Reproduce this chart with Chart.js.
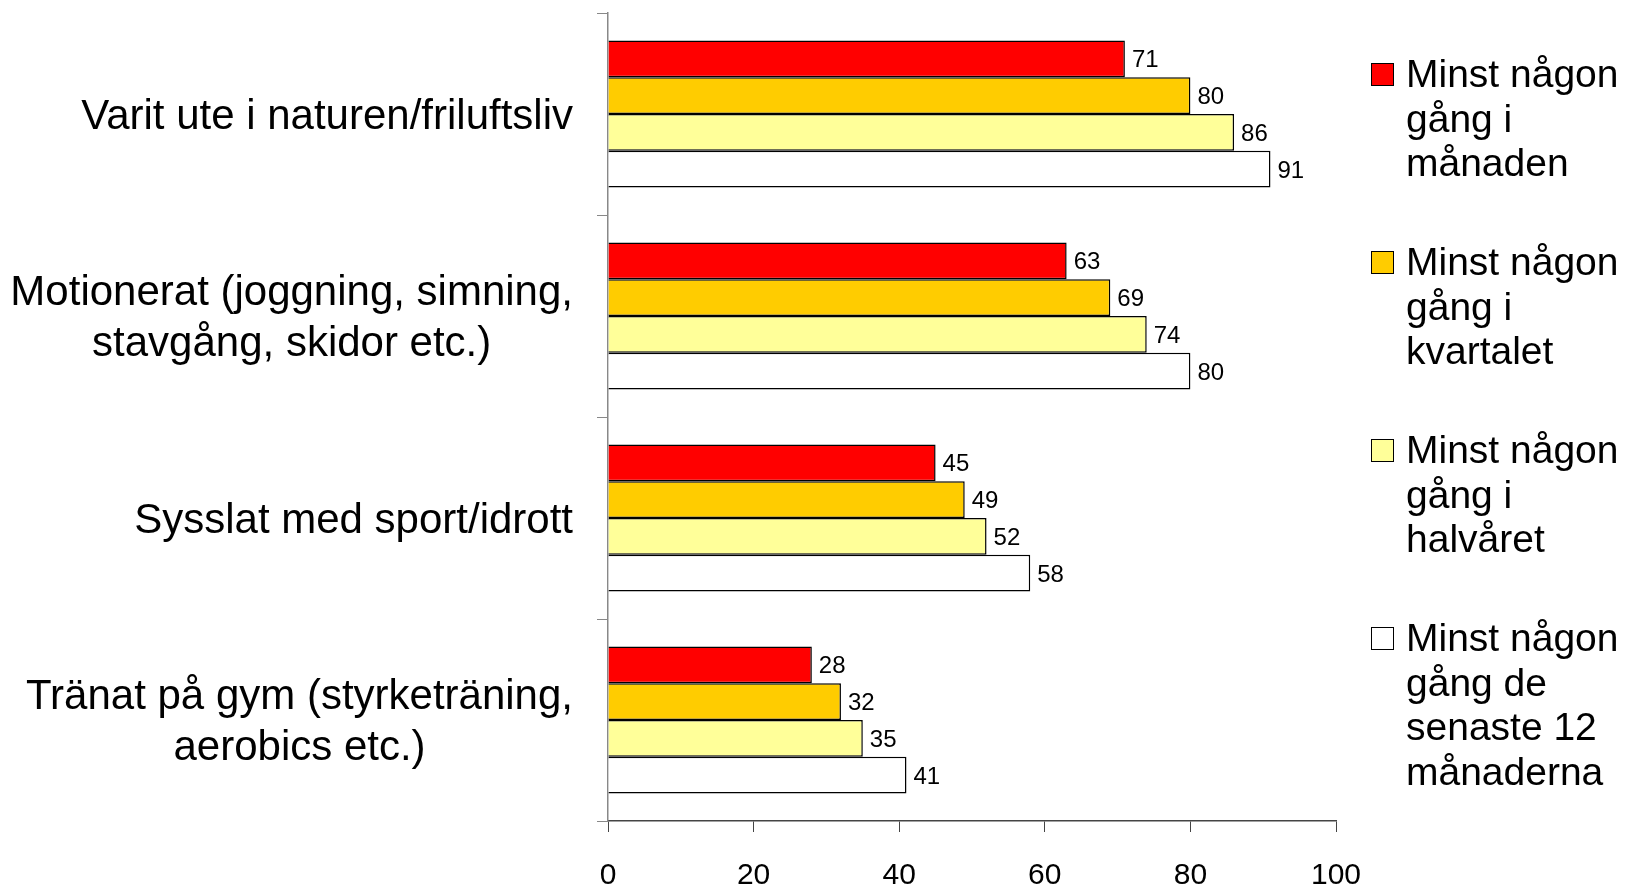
<!DOCTYPE html>
<html>
<head>
<meta charset="utf-8">
<script src="https://cdn.jsdelivr.net/npm/chart.js@4"></script>
<style>
  html, body { margin: 0; padding: 0; background: #fff; }
  #wrap { position: relative; width: 1626px; height: 890px; }
  #legend { position: absolute; left: 1369px; top: 52px; font-family: 'Liberation Sans', Arial, sans-serif; font-size: 39px; line-height: 44.5px; color: #000; }
  .item { position: relative; padding-left: 37px; height: 188px; }
  .box { position: absolute; left: 2px; top: 11px; width: 21px; height: 21px; border: 1.5px solid #000; }
</style>
</head>
<body>
<div id="wrap">
  <canvas id="chart" width="1626" height="890"></canvas>
  <div id="legend"></div>
</div>
<script>
const categories = [
    'Varit ute i naturen/friluftsliv',
    ['Motionerat (joggning, simning,', 'stavgång, skidor etc.)'],
    'Sysslat med sport/idrott',
    ['Tränat på gym (styrketräning,', 'aerobics etc.)']
];
const seriesNames = [
    ['Minst någon', 'gång i', 'månaden'],
    ['Minst någon', 'gång i', 'kvartalet'],
    ['Minst någon', 'gång i', 'halvåret'],
    ['Minst någon', 'gång de', 'senaste 12', 'månaderna']
];
const manaden = [71, 63, 45, 28];
const kvartalet = [80, 69, 49, 32];
const halvaret = [86, 74, 52, 35];
const tolvManader = [91, 80, 58, 41];
const xTicks = [0, 20, 40, 60, 80, 100];
const colors = ['#FF0000', '#FFCC00', '#FFFF99', '#FFFFFF'];

const values = [manaden, kvartalet, halvaret, tolvManader];

// legend built as html so the labels can wrap like the original
const legendDiv = document.getElementById('legend');
seriesNames.forEach((name, i) => {
    const item = document.createElement('div');
    item.className = 'item';
    const box = document.createElement('div');
    box.className = 'box';
    box.style.background = colors[i];
    item.appendChild(box);
    name.forEach((line, k) => {
        if (k > 0) item.appendChild(document.createElement('br'));
        item.appendChild(document.createTextNode(line));
    });
    legendDiv.appendChild(item);
});

const valueLabels = {
    id: 'valueLabels',
    afterDatasetsDraw(chart) {
        const ctx = chart.ctx;
        ctx.save();
        ctx.font = "24px 'Liberation Sans', Arial, sans-serif";
        ctx.fillStyle = '#000';
        ctx.textAlign = 'left';
        ctx.textBaseline = 'middle';
        chart.data.datasets.forEach((ds, i) => {
            chart.getDatasetMeta(i).data.forEach((bar, j) => {
                ctx.fillText(ds.data[j], bar.x + 7, bar.y + 2);
            });
        });
        ctx.restore();
    }
};

// category labels: block right aligned to the axis, lines centred inside the block
const categoryLabels = {
    id: 'categoryLabels',
    afterDraw(chart) {
        const ctx = chart.ctx;
        const yScale = chart.scales.y;
        const right = yScale.right - 35;
        const lh = 51;
        ctx.save();
        ctx.font = "42px 'Liberation Sans', Arial, sans-serif";
        ctx.fillStyle = '#000';
        ctx.textAlign = 'center';
        ctx.textBaseline = 'middle';
        chart.data.labels.forEach((label, i) => {
            const lines = Array.isArray(label) ? label : [label];
            const w = Math.max(...lines.map(l => ctx.measureText(l).width));
            const cx = right - w / 2;
            const y0 = yScale.getPixelForTick(i) + 3 - (lines.length - 1) * lh / 2;
            lines.forEach((l, k) => ctx.fillText(l, cx, y0 + k * lh));
        });
        ctx.restore();
    }
};

new Chart(document.getElementById('chart'), {
    type: 'bar',
    data: {
        labels: categories,
        datasets: values.map((v, i) => ({
            label: seriesNames[i].join(' '),
            data: v,
            backgroundColor: colors[i],
            borderColor: '#000',
            borderWidth: 1.5,
            categoryPercentage: 0.728,
            barPercentage: 1.0
        }))
    },
    options: {
        indexAxis: 'y',
        responsive: false,
        animation: false,
        layout: { padding: { top: 13, right: 290, left: 0, bottom: 0 } },
        plugins: {
            legend: { display: false },
            tooltip: { enabled: false }
        },
        scales: {
            x: {
                min: 0,
                max: 100,
                afterBuildTicks: axis => { axis.ticks = xTicks.map(v => ({ value: v })); },
                afterFit: axis => { axis.height = 69; axis.paddingLeft = 0; axis.paddingRight = 0; },
                border: { color: '#444', width: 1.5 },
                grid: { drawOnChartArea: false, drawTicks: true, tickLength: 11, color: '#444' },
                ticks: {
                    color: '#000',
                    padding: 26,
                    font: { family: "'Liberation Sans', Arial, sans-serif", size: 30 }
                }
            },
            y: {
                afterFit: axis => { axis.width = 608; axis.paddingTop = 0; axis.paddingBottom = 0; },
                border: { color: '#888', width: 1.5 },
                grid: { drawOnChartArea: false, drawTicks: true, tickLength: 11, color: '#888', offset: true },
                ticks: { display: false }
            }
        }
    },
    plugins: [valueLabels, categoryLabels]
});
</script>
</body>
</html>
